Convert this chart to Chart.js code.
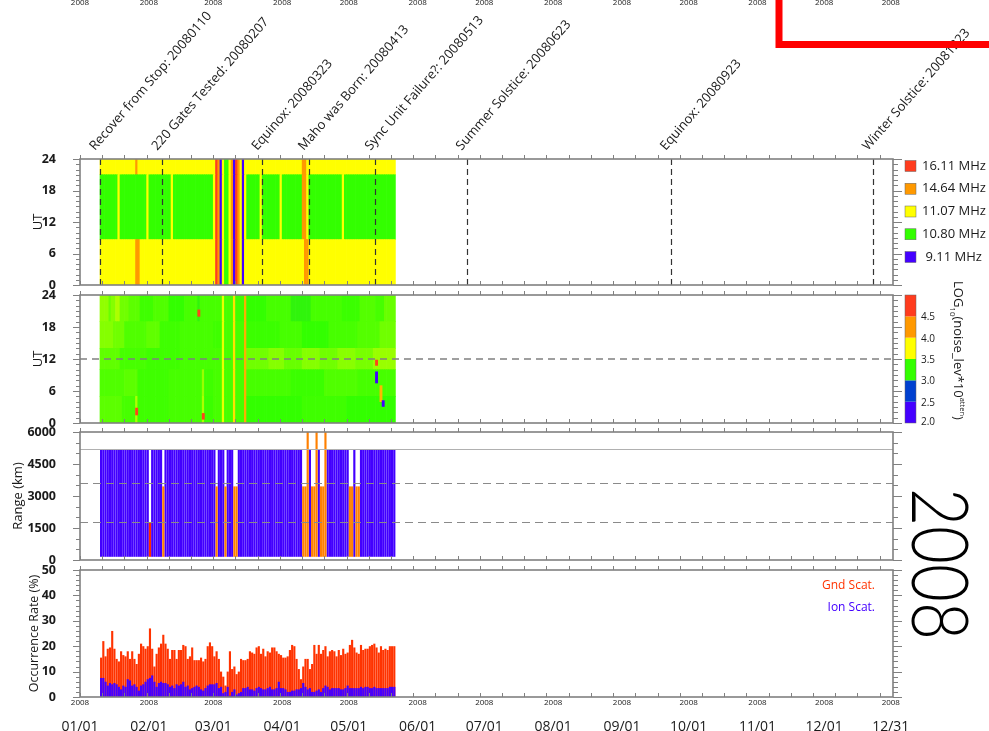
<!DOCTYPE html>
<html>
<head>
<meta charset="utf-8">
<script src="https://cdn.jsdelivr.net/npm/chart.js@4.4.0/dist/chart.umd.min.js"></script>
<style>
  body { margin: 0; background: #fff; overflow: hidden; }
  canvas { position: absolute; left: 0; top: 0; }
</style>
</head>
<body>
<canvas id="freq" width="989" height="731"></canvas>
<canvas id="noise" width="989" height="731"></canvas>
<canvas id="range" width="989" height="731"></canvas>
<canvas id="occ" width="989" height="731"></canvas>
<script>
// x is the day of 2008, 0 = 01/01 00:00, a day N covers [N-1, N]
const monthTicks = [0, 31, 60, 91, 121, 152, 182, 213, 244, 274, 305, 335, 365];
const monthLabels = ['01/01', '02/01', '03/01', '04/01', '05/01', '06/01', '07/01',
                     '08/01', '09/01', '10/01', '11/01', '12/01', '12/31'];

const eventNames = ['Recover from Stop: 20080110', '220 Gates Tested: 20080207', 'Equinox: 20080323',
                    'Maho was Born: 20080413', 'Sync Unit Failure?: 20080513', 'Summer Solstice: 20080623',
                    'Equinox: 20080923', 'Winter Solstice: 20081223'];
const eventDays = [10, 38, 83, 104, 134, 175, 267, 358];

// panel 1: operating frequency, runs of [firstDay, lastDay, code]
const freqCodes = ['R', 'O', 'Y', 'G', 'B'];
const freqNames = ['16.11 MHz', '14.64 MHz', '11.07 MHz', '10.80 MHz', ' 9.11 MHz'];
const freqColors = ['#ff3c1e', '#ff9900', '#ffff00', '#33ff00', '#4400ff'];
const freqBands = [[0, 8.65], [8.65, 21], [21, 24]];
const stripeRuns = [[61, 61, 'Y'], [62, 62, 'R'], [63, 63, 'O'], [64, 64, 'B'], [65, 65, 'Y'], [66, 67, 'G'],
                    [68, 68, 'Y'], [69, 69, 'O'], [70, 70, 'B'], [71, 71, 'R'], [72, 72, 'O'], [73, 73, 'Y'],
                    [74, 74, 'B'], [75, 75, 'Y']];
const freqLowRuns = [[10, 25, 'Y'], [26, 27, 'O'], [28, 60, 'Y'], ...stripeRuns, [76, 101, 'Y'], [102, 103, 'O'], [104, 142, 'Y']];
const freqMidRuns = [[10, 17, 'G'], [18, 18, 'Y'], [19, 30, 'G'], [31, 31, 'Y'], [32, 41, 'G'], [42, 42, 'Y'],
                     [43, 60, 'G'], ...stripeRuns, [76, 81, 'G'], [82, 82, 'Y'], [83, 90, 'G'], [91, 91, 'Y'],
                     [92, 100, 'G'], [101, 102, 'O'], [103, 103, 'Y'], [104, 118, 'G'], [119, 119, 'Y'], [120, 142, 'G']];
const freqTopRuns = [[10, 25, 'Y'], [26, 26, 'O'], [27, 60, 'Y'], ...stripeRuns, [76, 100, 'Y'], [101, 102, 'O'], [103, 142, 'Y']];

// panel 2: noise level, runs of [firstDay, lastDay, log10 value] per UT band
const noiseLevels = [2.0, 2.5, 3.0, 3.5, 4.0, 4.5];
const noiseColors = ['#4400ff', '#0040d0', '#33ff00', '#ffff00', '#ff9900', '#ff3c1e'];
const noiseBands = [[0, 5], [5, 10], [10, 14], [14, 19], [19, 24]];
const noiseBottomRuns = [[10, 19, 3.35], [20, 25, 3.3], [26, 26, 3.55], [27, 40, 3.28], [41, 55, 3.3], [56, 56, 3.55],
  [57, 60, 3.27], [61, 64, 3.3], [65, 65, 3.7], [66, 69, 3.3], [70, 70, 3.9], [71, 74, 3.3], [75, 75, 4.15],
  [76, 100, 3.25], [101, 120, 3.28], [121, 142, 3.25]];
const noiseLowRuns = [[10, 20, 3.32], [21, 26, 3.35], [27, 40, 3.28], [41, 55, 3.3], [56, 56, 3.5], [57, 60, 3.28],
  [61, 64, 3.3], [65, 65, 3.7], [66, 69, 3.3], [70, 70, 3.9], [71, 74, 3.3], [75, 75, 4.15],
  [76, 95, 3.3], [96, 110, 3.27], [111, 125, 3.32], [126, 142, 3.3]];
const noiseMidRuns = [[10, 18, 3.36], [19, 30, 3.3], [31, 45, 3.28], [46, 60, 3.3], [61, 64, 3.3], [65, 65, 3.7],
  [66, 69, 3.3], [70, 70, 3.9], [71, 74, 3.3], [75, 75, 4.15], [76, 85, 3.4], [86, 92, 3.45], [93, 100, 3.38],
  [101, 108, 3.45], [109, 116, 3.4], [117, 124, 3.46], [125, 132, 3.42], [133, 142, 3.5]];
const noiseUpperRuns = [[10, 15, 3.45], [16, 20, 3.4], [21, 30, 3.32], [31, 36, 3.36], [37, 45, 3.28], [46, 60, 3.3],
  [61, 64, 3.28], [65, 65, 3.7], [66, 69, 3.3], [70, 70, 3.9], [71, 74, 3.3], [75, 75, 4.15], [76, 90, 3.27],
  [91, 100, 3.3], [101, 112, 3.25], [113, 125, 3.3], [126, 135, 3.33], [136, 142, 3.4]];
const noiseTopRuns = [[10, 13, 3.48], [14, 14, 3.38], [15, 16, 3.45], [17, 18, 3.55], [19, 22, 3.4], [23, 27, 3.35],
  [28, 33, 3.28], [34, 40, 3.32], [41, 47, 3.25], [48, 53, 3.3], [54, 54, 3.22], [55, 60, 3.3], [61, 64, 3.3],
  [65, 65, 3.7], [66, 69, 3.3], [70, 70, 3.9], [71, 74, 3.28], [75, 75, 4.15], [76, 84, 3.25], [85, 95, 3.3],
  [96, 104, 3.22], [105, 118, 3.3], [119, 126, 3.27], [127, 133, 3.33], [134, 137, 3.3], [138, 142, 3.38]];
// single spots: [day, utFrom, utTo, value]
const noiseSpots = [[26, 1.5, 2.8, 4.7], [54, 20, 21.2, 4.7], [56, 0.7, 1.8, 4.7], [134, 10.8, 11.8, 4.7],
                    [134, 7.5, 9.6, 2.2], [136, 4, 7, 4.1], [137, 3.1, 4.2, 2.2]];

// panel 3: range gates in use
const rangeFirstDay = 10, rangeLastDay = 142;
const rangeRedDays = [32];
const rangeOrangeDays = [38, 62, 66, 70, 71, 101, 102, 105, 106, 109, 110, 122, 123, 125, 126];
const rangeTallDays = [103, 107, 111];
const rangeBlue = [150, 5180];
const rangeOrange = [150, 3450];
const rangeTall = [150, 6000];
const rangeRed = [150, 1760];
const rangeRefLines = [5180, 3590, 1760];

// panel 4: daily occurrence rate (%), first value is 01/10
const occFirstDay = 10;
const gndRate = [15.5, 22, 16, 19, 19.5, 26, 19, 15, 14, 18, 16.5, 16, 18, 15, 18, 15, 13, 17, 21, 20,
  19, 20, 27, 19, 12, 17, 19.5, 21, 24.5, 21, 19, 15, 18.5, 18.5, 15, 18.5, 18.5, 20.5, 20, 15,
  16, 19.5, 14.5, 14.5, 14.5, 15.5, 14, 15, 20, 21.5, 20, 16, 18, 15, 10, 8, 4.5, 10, 18, 11,
  12, 9, 10, 15, 14.5, 14.5, 15, 18, 17.5, 17, 19.5, 20, 17, 19, 16, 18, 17.5, 19.5, 19.5, 18,
  17, 16.5, 15.5, 15.5, 16, 18.5, 20.5, 20, 15, 11, 7, 12, 15, 15, 11, 13, 20.5, 17, 20.5, 17,
  18.5, 20, 16, 18, 18.5, 18, 16, 18.5, 16.5, 19, 17, 17.5, 20.5, 22.5, 19.5, 17.5, 17, 20.5, 18.5, 19,
  19, 20, 20.5, 21, 19.5, 17.5, 20, 18.5, 19, 18.5, 20, 20, 20];
const ionRate = [7.5, 7.5, 6, 4.5, 5.5, 5, 5.5, 5, 4, 3, 4.5, 4, 7, 6.5, 4.5, 5, 4, 2.5, 4.5, 5,
  6, 7, 7.5, 8.5, 6, 4, 5.5, 6, 5.5, 5.5, 5, 4, 4.5, 3.5, 5, 4.5, 5, 6, 4, 4.5,
  3, 3.5, 4, 4.5, 4, 3, 2.5, 3.5, 4.5, 5, 5, 5, 5.5, 3.5, 4, 1.5, 2, 4, 0.5, 2,
  3, 1, 1.5, 2, 3.5, 3.5, 4, 3, 3, 2.5, 3.5, 4, 3.5, 3, 3, 3.5, 4, 3, 3, 3.5,
  6, 3.5, 3.5, 3, 2, 2, 2.5, 2.5, 3, 3, 3.5, 5.5, 4, 3, 3.5, 2, 2, 2.5, 3, 2,
  3.5, 4.5, 4, 3, 3.5, 3.5, 3.5, 3.5, 3, 3, 3.5, 4.5, 3.5, 3.5, 3.5, 3.5, 3.5, 4, 3.5, 4,
  4, 3.5, 3.5, 4, 3.5, 3.5, 3.5, 3.5, 3.5, 3.5, 4, 4, 4];

const FONT = "'Open Sans', 'DejaVu Sans', sans-serif";
const INK = '#1a1a1a';
Chart.defaults.font.family = FONT;
Chart.defaults.color = INK;

function hexRgb(h) {
  return [1, 3, 5].map(i => parseInt(h.substr(i, 2), 16));
}
function freqColor(code) {
  return freqColors[freqCodes.indexOf(code)];
}
function noiseColor(v) {
  const t = Math.min(Math.max((v - 2.25) / 0.5, 0), 5);
  const i = Math.min(Math.floor(t), 4), f = t - i;
  const a = hexRgb(noiseColors[i]), b = hexRgb(noiseColors[i + 1]);
  return 'rgb(' + a.map((c, k) => Math.round(c + (b[k] - c) * f)).join(',') + ')';
}
function bandDataset(runs, band, colorOf) {
  const data = [], colors = [];
  runs.forEach(([d0, d1, c]) => {
    for (let d = d0; d <= d1; d++) {
      data.push({ x: d - 0.5, y: band });
      colors.push(colorOf(c));
    }
  });
  return { data, backgroundColor: colors, grouped: false, barPercentage: 1, categoryPercentage: 1, borderWidth: 0 };
}

// box, minor ticks on every panel
const panelFrame = {
  id: 'panelFrame',
  afterDraw(chart, args, o) {
    if (!o || !o.minor) return;
    const { ctx, chartArea: a } = chart;
    const x = chart.scales.x, y = chart.scales.y;
    ctx.save();
    ctx.strokeStyle = '#808080';
    ctx.lineWidth = 1;
    ctx.beginPath();
    for (let d = 0; d <= 366; d += 10) {
      const px = Math.round(x.getPixelForValue(d)) + 0.5;
      ctx.moveTo(px, a.top); ctx.lineTo(px, a.top - 4);
      ctx.moveTo(px, a.bottom); ctx.lineTo(px, a.bottom - 4);
    }
    for (let v = y.min; v <= y.max + 1e-6; v += o.minor) {
      const py = Math.round(y.getPixelForValue(v)) + 0.5;
      const major = o.major.some(m => Math.abs(m - v) < 1e-6);
      ctx.moveTo(a.left - (major ? 7 : 4), py); ctx.lineTo(a.left, py);
      ctx.moveTo(a.right, py); ctx.lineTo(a.right + (major ? 9 : 5), py);
    }
    ctx.stroke();
    ctx.lineWidth = 1.6;
    ctx.strokeRect(a.left, a.top, a.width, a.height);
    ctx.restore();
  }
};
Chart.register(panelFrame);

function yAxis(min, max, ticks, title, titlePad, titleSize) {
  return {
    type: 'linear', min, max,
    afterBuildTicks: s => { s.ticks = ticks.map(v => ({ value: v })); },
    afterFit: s => { s.width = 80; },
    grid: { display: false }, border: { display: false },
    ticks: { padding: 16, color: INK, font: { size: 12.5, weight: 'bold' }, callback: v => String(v) },
    title: { display: true, text: title, color: INK, font: { size: titleSize }, padding: { top: titlePad, bottom: 0 } }
  };
}
function hiddenX() {
  return { type: 'linear', min: 0, max: 366, offset: false, display: false };
}
function options(top, bottom, yScale, major, minor, xScales) {
  return {
    responsive: false, animation: false, devicePixelRatio: 1,
    layout: { padding: { left: 0, right: 96, top, bottom } },
    scales: Object.assign({ x: hiddenX(), y: yScale }, xScales || {}),
    plugins: { legend: { display: false }, tooltip: { enabled: false }, panelFrame: { major, minor } }
  };
}

// ---------- panel 1 ----------
const freqDecor = {
  id: 'freqDecor',
  afterDatasetsDraw(chart) {
    const { ctx, chartArea: a, scales: { x } } = chart;
    ctx.save();
    ctx.strokeStyle = '#333';
    ctx.lineWidth = 1.2;
    ctx.setLineDash([6, 4]);
    eventDays.forEach(d => {
      const px = Math.round(x.getPixelForValue(d - 1)) + 0.5;
      ctx.beginPath(); ctx.moveTo(px, a.top); ctx.lineTo(px, a.bottom); ctx.stroke();
    });
    ctx.restore();
  },
  afterDraw(chart) {
    const { ctx, scales: { x } } = chart;
    ctx.save();
    ctx.fillStyle = INK;
    // cut-off axis labels of the panel above
    ctx.font = '8px ' + FONT;
    ctx.textAlign = 'center';
    monthTicks.forEach(v => ctx.fillText('2008', x.getPixelForValue(v), 5));
    // event labels
    ctx.font = '13px ' + FONT;
    ctx.textAlign = 'left';
    eventNames.forEach((t, i) => {
      ctx.save();
      ctx.translate(x.getPixelForValue(eventDays[i] - 1) - 5, 151);
      ctx.rotate(-49 * Math.PI / 180);
      ctx.fillText(t, 0, 0);
      ctx.restore();
    });
    // frequency legend
    ctx.font = '13px ' + FONT;
    ctx.textBaseline = 'middle';
    freqNames.forEach((n, i) => {
      const cy = 166 + i * 22.75;
      ctx.fillStyle = freqColors[i];
      ctx.fillRect(905, cy - 5.5, 11, 11);
      ctx.strokeStyle = '#666'; ctx.lineWidth = 0.5;
      ctx.strokeRect(905, cy - 5.5, 11, 11);
      ctx.fillStyle = INK;
      ctx.fillText(n, 922, cy);
    });
    // red marker box
    ctx.strokeStyle = '#ff0000';
    ctx.lineWidth = 7;
    ctx.beginPath(); ctx.moveTo(779, -5); ctx.lineTo(779, 44.5); ctx.lineTo(995, 44.5); ctx.stroke();
    ctx.restore();
  }
};
new Chart(document.getElementById('freq'), {
  type: 'bar',
  data: { datasets: [
    bandDataset(freqLowRuns, freqBands[0], freqColor),
    bandDataset(freqMidRuns, freqBands[1], freqColor),
    bandDataset(freqTopRuns, freqBands[2], freqColor)
  ] },
  options: options(159, 731 - 285, yAxis(0, 24, [0, 6, 12, 18, 24], 'UT', 30, 13), [0, 6, 12, 18, 24], 1),
  plugins: [freqDecor]
});

// ---------- panel 2 ----------
const noiseDecor = {
  id: 'noiseDecor',
  afterDatasetsDraw(chart) {
    const { ctx, chartArea: a, scales: { y } } = chart;
    ctx.save();
    ctx.strokeStyle = '#808080';
    ctx.lineWidth = 1.5;
    ctx.setLineDash([7, 5]);
    const py = y.getPixelForValue(12);
    ctx.beginPath(); ctx.moveTo(a.left, py); ctx.lineTo(a.right, py); ctx.stroke();
    ctx.restore();
  },
  afterDraw(chart) {
    const { ctx, scales: { y } } = chart;
    const cb = v => y.getPixelForValue((v - 2) / 3 * 24);
    ctx.save();
    noiseLevels.forEach((lv, i) => {
      const y0 = cb(lv), y1 = cb(lv + 0.5);
      ctx.fillStyle = noiseColors[i];
      ctx.fillRect(905, y1, 11, y0 - y1);
    });
    ctx.strokeStyle = '#666'; ctx.lineWidth = 0.5;
    ctx.strokeRect(905, cb(5), 11, cb(2) - cb(5));
    ctx.fillStyle = INK;
    ctx.font = '10px ' + FONT;
    ctx.textBaseline = 'middle';
    noiseLevels.forEach(lv => ctx.fillText(lv.toFixed(1), 921, cb(lv) - (lv === 2 ? 1 : -1)));
    // colour bar title, read top to bottom
    ctx.translate(954, 281);
    ctx.rotate(Math.PI / 2);
    ctx.textBaseline = 'alphabetic';
    let cx = 0;
    const part = (t, size, dy) => {
      ctx.font = size + 'px ' + FONT;
      ctx.fillText(t, cx, dy);
      cx += ctx.measureText(t).width;
    };
    part('LOG', 13, 0); part('10', 8, 4); part('(noise_lev*10', 13, 0); part('atten', 7.5, -6); part(')', 13, 0);
    ctx.restore();
  }
};
const noiseBandRuns = [noiseBottomRuns, noiseLowRuns, noiseMidRuns, noiseUpperRuns, noiseTopRuns];
const spotData = noiseSpots.map(s => ({ x: s[0] - 0.5, y: [s[1], s[2]] }));
new Chart(document.getElementById('noise'), {
  type: 'bar',
  data: { datasets: [
    { data: spotData, backgroundColor: noiseSpots.map(s => noiseColor(s[3])), grouped: false,
      barPercentage: 1, categoryPercentage: 1, borderWidth: 0 },
    ...noiseBandRuns.map((r, i) => bandDataset(r, noiseBands[i], noiseColor))
  ] },
  options: options(295, 731 - 423, yAxis(0, 24, [0, 6, 12, 18, 24], 'UT', 30, 13), [0, 6, 12, 18, 24], 1),
  plugins: [noiseDecor]
});

// ---------- panel 3 ----------
const blueDays = [], orangeDays = [...rangeOrangeDays];
for (let d = rangeFirstDay; d <= rangeLastDay; d++) {
  if (!rangeRedDays.includes(d) && !rangeOrangeDays.includes(d) && !rangeTallDays.includes(d)) blueDays.push(d);
}
function spanDataset(days, span, color) {
  return { data: days.map(d => ({ x: d - 0.5, y: span })), backgroundColor: color, grouped: false,
           barPercentage: 0.97, categoryPercentage: 1, borderWidth: 0, inflateAmount: 0 };
}
const rangeDecor = {
  id: 'rangeDecor',
  afterDatasetsDraw(chart) {
    const { ctx, chartArea: a, scales: { y } } = chart;
    ctx.save();
    ctx.lineWidth = 1.2;
    rangeRefLines.forEach((v, i) => {
      ctx.strokeStyle = i === 0 ? '#b0b0b0' : '#8a8a8a';
      ctx.setLineDash(i === 0 ? [] : [8, 5]);
      const py = Math.round(y.getPixelForValue(v)) + 0.5;
      ctx.beginPath(); ctx.moveTo(a.left, py); ctx.lineTo(a.right, py); ctx.stroke();
    });
    ctx.restore();
  },
  afterDraw(chart) {
    const { ctx } = chart;
    ctx.save();
    ctx.translate(940, 564);
    ctx.rotate(Math.PI / 2);
    ctx.font = '300 78px Lato, ' + FONT;
    const w = ctx.measureText('2008').width;
    ctx.scale(152 / w, 1);
    ctx.fillStyle = '#000';
    ctx.textAlign = 'center';
    ctx.fillText('2008', 0, 28);
    ctx.restore();
  }
};
new Chart(document.getElementById('range'), {
  type: 'bar',
  data: { datasets: [
    spanDataset(rangeRedDays, rangeRed, '#ff2a00'),
    spanDataset(rangeTallDays, rangeTall, '#ff8000'),
    spanDataset(orangeDays, rangeOrange, '#ff8000'),
    spanDataset(blueDays, rangeBlue, '#4200ff')
  ] },
  options: options(432, 731 - 560, yAxis(0, 6000, [0, 1500, 3000, 4500, 6000], 'Range (km)', 10, 13),
                   [0, 1500, 3000, 4500, 6000], 500),
  plugins: [rangeDecor]
});

// ---------- panel 4 ----------
const occDecor = {
  id: 'occDecor',
  afterDraw(chart) {
    const { ctx, scales: { x } } = chart;
    ctx.save();
    ctx.font = '12px ' + FONT;
    ctx.textAlign = 'right';
    ctx.textBaseline = 'middle';
    ctx.fillStyle = '#ff3300'; ctx.fillText('Gnd Scat.', 875, 586);
    ctx.fillStyle = '#4400ff'; ctx.fillText('Ion Scat.', 875, 608);
    // small year line under each month tick
    ctx.fillStyle = INK;
    ctx.font = '8px ' + FONT;
    ctx.textAlign = 'center';
    monthTicks.forEach(v => ctx.fillText('2008', x.getPixelForValue(v), 703));
    ctx.restore();
  }
};
const occOpts = options(570, 0, yAxis(0, 50, [0, 10, 20, 30, 40, 50], 'Occurrence Rate (%)', 27, 12.5),
                        [0, 10, 20, 30, 40, 50], 2);
occOpts.scales.x = {
  type: 'linear', min: 0, max: 366, offset: false, position: 'bottom',
  afterBuildTicks: s => { s.ticks = monthTicks.map(v => ({ value: v })); },
  afterFit: s => { s.height = 34; },
  grid: { display: false }, border: { display: false },
  ticks: { autoSkip: false, maxRotation: 0, padding: 14, color: INK, font: { size: 14 },
           callback: (v, i) => monthLabels[i] }
};
new Chart(document.getElementById('occ'), {
  type: 'bar',
  data: { datasets: [
    { data: ionRate.map((v, i) => ({ x: occFirstDay + i - 0.5, y: v })), backgroundColor: '#4400ff',
      grouped: false, barPercentage: 0.96, categoryPercentage: 1, borderWidth: 0, inflateAmount: 0 },
    { data: gndRate.map((v, i) => ({ x: occFirstDay + i - 0.5, y: v })), backgroundColor: '#ff3300',
      grouped: false, barPercentage: 0.96, categoryPercentage: 1, borderWidth: 0, inflateAmount: 0 }
  ] },
  options: occOpts,
  plugins: [occDecor]
});
</script>
</body>
</html>
